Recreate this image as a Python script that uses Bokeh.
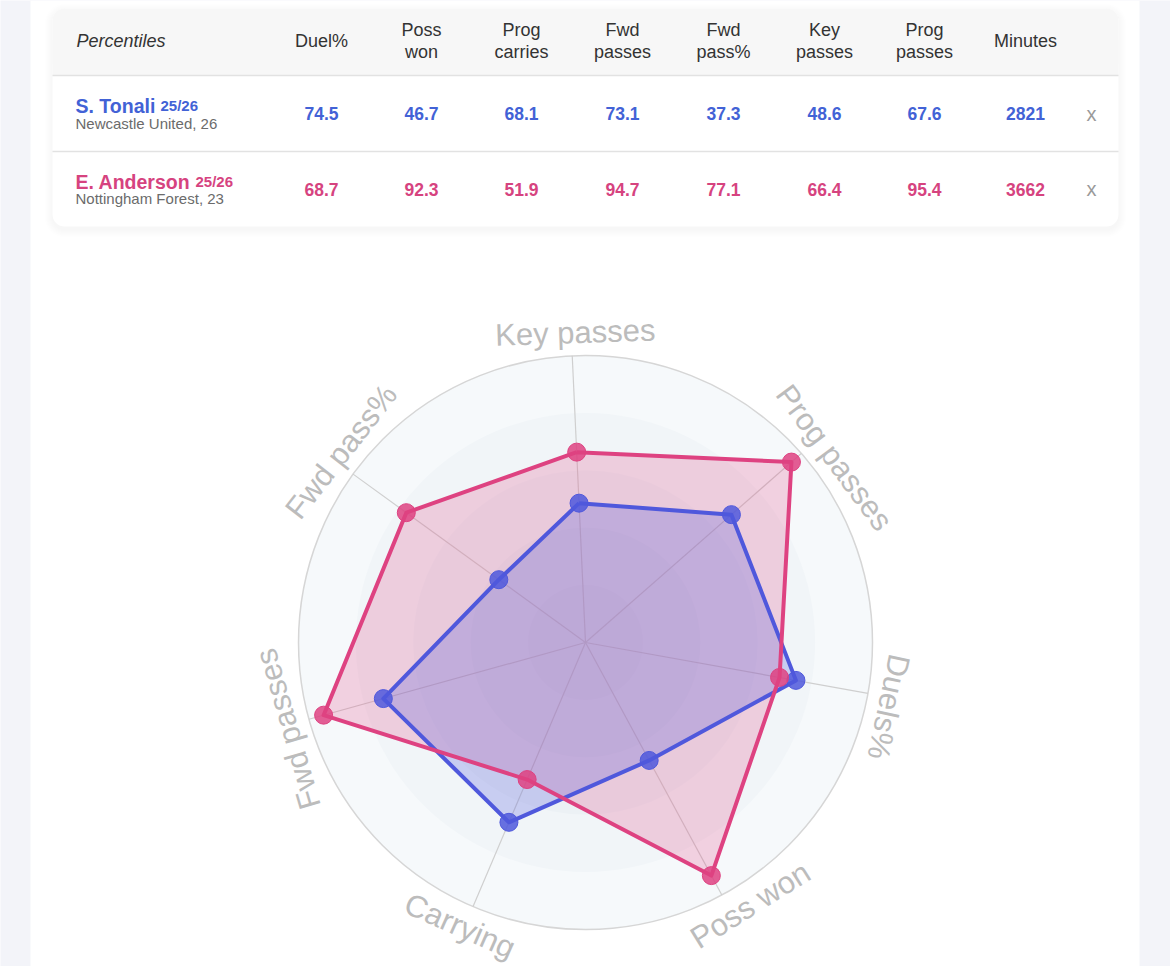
import numpy as np
from bokeh.plotting import figure
from bokeh.models import Range1d
from bokeh.core.properties import value
from bokeh.embed import file_html
from bokeh.resources import INLINE

# ---------------- data ----------------
axis_labels = ["Key passes", "Prog passes", "Duels%", "Poss won", "Carrying", "Fwd passes", "Fwd pass%"]
tonali_vals = [48.6, 67.6, 74.5, 46.7, 68.1, 73.1, 37.3]
anderson_vals = [66.4, 95.4, 68.7, 92.3, 51.9, 94.7, 77.1]

col_headers = [["Duel%"], ["Poss", "won"], ["Prog", "carries"], ["Fwd", "passes"],
               ["Fwd", "pass%"], ["Key", "passes"], ["Prog", "passes"], ["Minutes"]]
tonali_row = ["74.5", "46.7", "68.1", "73.1", "37.3", "48.6", "67.6", "2821"]
anderson_row = ["68.7", "92.3", "51.9", "94.7", "77.1", "66.4", "95.4", "3662"]
players = ["S. Tonali", "E. Anderson"]
seasons = ["25/26", "25/26"]
clubs = ["Newcastle United, 26", "Nottingham Forest, 23"]

# ---------------- layout / style ----------------
W, H = 1170, 966
FONT = value("Liberation Sans")
BLUE = "#4f58dc"
PINK = "#de4281"
BLUE_TXT = "#4262d6"
PINK_TXT = "#d6437f"
DY = 7  # baseline correction

def Y(py):
    return H - py

p = figure(width=W, height=H, x_range=Range1d(0, W), y_range=Range1d(0, H),
           output_backend="svg", toolbar_location=None, min_border=0,
           x_axis_location=None, y_axis_location=None)
p.grid.visible = False
p.outline_line_color = None
p.background_fill_color = "#f3f4f9"
p.border_fill_color = "#f3f4f9"

# white panel
p.quad(left=[30], right=[1139], top=[H], bottom=[0], fill_color="white", line_color=None)

# ---------------- table card ----------------
for k in range(1, 9):
    p.quad(left=[52 - k], right=[1118 + k], top=[Y(8 - k + 3)], bottom=[Y(226 + k + 3)],
           border_radius=12 + k, fill_color="black", fill_alpha=0.005, line_color=None)
p.quad(left=[52], right=[1118], top=[Y(8)], bottom=[Y(226)], border_radius=12,
       fill_color="white", line_color=None)
p.quad(left=[52], right=[1118], top=[Y(8)], bottom=[Y(75)], border_radius=12,
       fill_color="#f7f7f7", line_color=None)
p.quad(left=[52], right=[1118], top=[Y(40)], bottom=[Y(75)],
       fill_color="#f7f7f7", line_color=None)
p.segment(x0=[52, 52], x1=[1118, 1118], y0=[Y(75), Y(151)], y1=[Y(75), Y(151)],
          line_color="#e2e2e2", line_width=1.5)

col_x = [321, 421, 521, 622, 723, 824, 924, 1025]

p.text(x=[76], y=[Y(47 - DY)], text=["Percentiles"], text_font=FONT, text_font_size="18px",
       text_font_style="italic", text_color="#333333", text_align="left",
       text_baseline="alphabetic")
hx, hy, ht = [], [], []
for cx_, lines in zip(col_x, col_headers):
    if len(lines) == 1:
        hx.append(cx_); hy.append(Y(47 - DY)); ht.append(lines[0])
    else:
        hx += [cx_, cx_]; hy += [Y(36 - DY), Y(58.5 - DY)]; ht += lines
p.text(x=hx, y=hy, text=ht, text_font=FONT, text_font_size="18px", text_color="#333333",
       text_align="center", text_baseline="alphabetic")

row_info = [
    (tonali_row, BLUE_TXT, 112, 129.5, 120, 160, 113),
    (anderson_row, PINK_TXT, 188, 205, 196, 195, 188.5),
]
for i, (vals, col, yb, yc, yv, sx, yx) in enumerate(row_info):
    p.text(x=[75], y=[Y(yb - DY)], text=[players[i]], text_font=FONT, text_font_size="19.5px",
           text_font_style="bold", text_color=col, text_align="left", text_baseline="alphabetic")
    p.text(x=[sx], y=[Y(yb - DY)], text=[seasons[i]], text_font=FONT, text_font_size="15px",
           text_font_style="bold", text_color=col, text_align="left", text_baseline="alphabetic")
    p.text(x=[75], y=[Y(yc - DY)], text=[clubs[i]], text_font=FONT, text_font_size="15px",
           text_color="#6b6b6b", text_align="left", text_baseline="alphabetic")
    p.text(x=col_x, y=[Y(yv - DY)] * len(col_x), text=vals, text_font=FONT, text_font_size="17.5px",
           text_font_style="bold", text_color=col, text_align="center", text_baseline="alphabetic")
    p.text(x=[1091], y=[Y(yx)], text=["x"], text_font=FONT, text_font_size="20px",
           text_color="#9a9a9a", text_align="center", text_baseline="middle")

# ---------------- radar ----------------
cx, cy = 585, Y(642)
R = 287.0
n = len(axis_labels)
theta = np.deg2rad(92.65 - np.arange(n) * 360.0 / n)

ring_colors = ["#f6f9fb", "#f1f5f8", "#ecf1f5", "#e7edf2", "#e3e9ef"]
for k, rc in enumerate(ring_colors):
    rr = R * (5 - k) / 5.0
    p.circle(x=[cx], y=[cy], radius=rr, fill_color=rc,
             line_color="#d6d6d6" if k == 0 else None, line_width=1.5)

p.segment(x0=[cx] * n, y0=[cy] * n, x1=list(cx + R * np.cos(theta)),
          y1=list(cy + R * np.sin(theta)), line_color="#cfcfcf", line_width=1.2)

def poly(vals):
    r = np.array(vals) / 100.0 * R
    return cx + r * np.cos(theta), cy + r * np.sin(theta)

ax_, ay_ = poly(anderson_vals)
tx_, ty_ = poly(tonali_vals)

p.patch(x=list(ax_), y=list(ay_), fill_color=PINK, fill_alpha=0.22, line_color=None)
p.patch(x=list(tx_), y=list(ty_), fill_color=BLUE, fill_alpha=0.25, line_color=None)
p.line(x=list(tx_) + [tx_[0]], y=list(ty_) + [ty_[0]], line_color=BLUE, line_width=4,
       line_join="round")
p.scatter(x=list(tx_), y=list(ty_), size=18, fill_color=BLUE, fill_alpha=0.85,
          line_color=BLUE, line_width=1)
p.line(x=list(ax_) + [ax_[0]], y=list(ay_) + [ay_[0]], line_color=PINK, line_width=4,
       line_join="round")
p.scatter(x=list(ax_), y=list(ay_), size=18, fill_color=PINK, fill_alpha=0.85,
          line_color=PINK, line_width=1)

# axis labels along the circle
label_phi = [91.9, 36.6, -12.0, -57.9, -113.9, -163.8, 142.0]
label_r = 310
lx, ly, la = [], [], []
for phi in label_phi:
    rad = np.deg2rad(phi)
    lx.append(cx + label_r * np.cos(rad))
    ly.append(cy + label_r * np.sin(rad))
    la.append(phi + 90 if -150 < phi < -30 else phi - 90)
p.text(x=lx, y=ly, text=axis_labels, angle=la, angle_units="deg", text_font=FONT,
       text_font_size="31px", text_color="#bcbcbc", text_align="center",
       text_baseline="middle")

open("out.html", "w").write(file_html(p, INLINE))
